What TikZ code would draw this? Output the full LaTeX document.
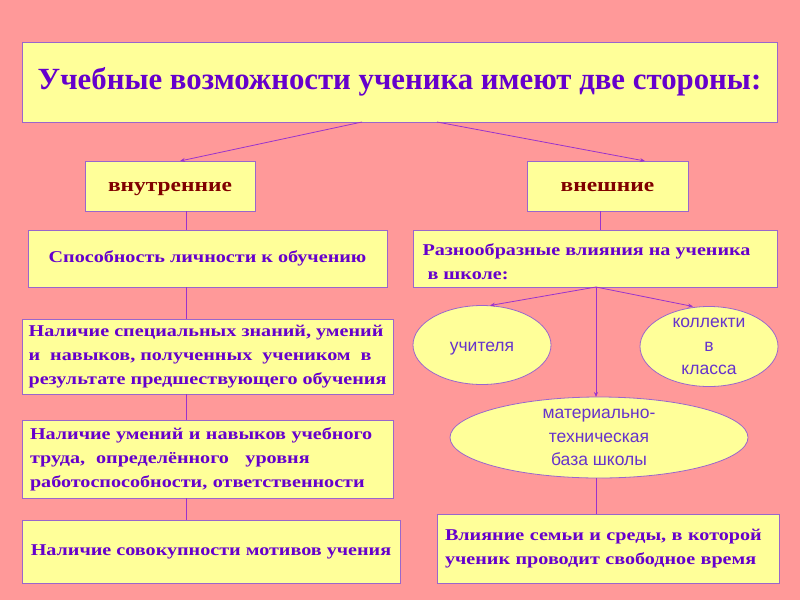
\documentclass[tikz,border=0pt]{standalone}
\usepackage{fontspec}
\setmainfont{Liberation Serif}
\newfontfamily\boxfont[FakeStretch=1.22]{Liberation Serif}
\newfontfamily\headfont[FakeStretch=1.2]{Liberation Serif}
\newfontfamily\elfont{Liberation Sans}
\usetikzlibrary{shapes.geometric,arrows.meta}
\definecolor{bgpink}{HTML}{FF9999}
\definecolor{boxyel}{HTML}{FFFF99}
\definecolor{bord}{HTML}{9966CC}
\definecolor{lin}{HTML}{9933CC}
\definecolor{txtp}{HTML}{6600CC}
\definecolor{txtr}{HTML}{800000}
\definecolor{eltxt}{HTML}{6633CC}
\tikzset{
  ybox/.style={draw=bord, line width=0.8pt, fill=boxyel, inner sep=0pt, outer sep=0pt},
  yell/.style={ellipse, draw=bord, line width=0.8pt, fill=boxyel, inner sep=0pt, outer sep=0pt,
     font=\elfont\fontsize{17.5}{23.5}\selectfont, text=eltxt, align=center},
  btxt/.style={font=\boxfont\bfseries\fontsize{16.5}{24}\selectfont, text=txtp},
  conn/.style={draw=lin, line width=0.8pt},
  arr/.style={conn, -{Stealth[length=5pt,width=4pt]}}
}
\begin{document}
\begin{tikzpicture}[x=1pt,y=-1pt]
\fill[bgpink] (0,0) rectangle (800,600);
\useasboundingbox (0,0) rectangle (800,600);
% title
\node[ybox, minimum width=755pt, minimum height=80pt, font=\bfseries\fontsize{30.8}{36}\selectfont, text=txtp] (title) at (399.5,82) {Учебные возможности ученика имеют две стороны:};
% second level
\node[ybox, minimum width=170pt, minimum height=50pt, font=\headfont\bfseries\fontsize{19.5}{22}\selectfont, text=txtr] (inner) at (170,186) {\raisebox{-5pt}[0pt][0pt]{внутренние}};
\node[ybox, minimum width=161pt, minimum height=50pt, font=\headfont\bfseries\fontsize{19.5}{22}\selectfont, text=txtr] (outer) at (607.5,186) {\raisebox{-5pt}[0pt][0pt]{внешние}};
% left column
\node[ybox, btxt, minimum width=359pt, minimum height=57pt] (spos) at (207.5,258.5) {Способность личности к обучению};
\node[ybox, btxt, minimum width=371pt, minimum height=75pt, align=left] (nal1) at (207.5,356.5) {Наличие специальных знаний, умений\\и\ \ навыков, полученных\ \ учеником\ \ в\\результате предшествующего обучения};
\node[ybox, btxt, minimum width=371pt, minimum height=78pt, text width=355pt, align=left] (nal2) at (207.5,459) {Наличие умений и навыков учебного\\труда,\ \ определённого\ \ \ уровня\\работоспособности, ответственности};
\node[ybox, btxt, minimum width=378pt, minimum height=63pt] (nal3) at (211,551.5) {Наличие совокупности мотивов учения};
% right column
\node[ybox, minimum width=364pt, minimum height=57pt] (razn) at (595,258.5) {};
\node[btxt, align=left, anchor=west] (razntxt) at (419,262) {Разнообразные влияния на ученика\\\ в школе:};
\node[yell, minimum width=138pt, minimum height=79pt] (uch) at (482,345) {\raisebox{-6.5pt}[0pt][0pt]{учителя}};
\node[yell, minimum width=138pt, minimum height=77pt] (kol) at (709,346.5) {коллекти\\в\\класса};
\node[yell, minimum width=298pt, minimum height=81pt] (mat) at (599,437.5) {материально-\\техническая\\база школы};
\node[ybox, btxt, minimum width=342pt, minimum height=69pt, text width=326pt, align=left] (vliy) at (608,548.5) {Влияние семьи и среды, в которой\\ученик проводит свободное время};
% connectors
\draw[arr] ([xshift=-37.5pt]title.south) -- ([xshift=10pt]inner.north);
\draw[arr] ([xshift=37.5pt]title.south) -- ([xshift=37.5pt]outer.north);
\draw[conn] ([xshift=16pt]inner.south) -- ([xshift=16pt]inner.south |- spos.north);
\draw[conn] ([xshift=-21.5pt]spos.south) -- ([xshift=-21.5pt]nal1.north);
\draw[conn] ([xshift=-21.5pt]nal1.south) -- ([xshift=-21.5pt]nal2.north);
\draw[conn] ([xshift=-21.5pt]nal2.south) -- ([xshift=-25pt]nal3.north);
\draw[conn] ([xshift=-7.5pt]outer.south) -- ([xshift=-7.5pt]outer.south |- razn.north);
\draw[arr] ([xshift=1pt]razn.south) -- ([xshift=8pt]uch.north);
\draw[arr] ([xshift=1pt]razn.south) -- ([xshift=-16pt]kol.north);
\draw[arr] ([xshift=1pt]razn.south) -- ([xshift=1pt]razn.south |- mat.north);
\draw[conn] ([xshift=-3pt]mat.south) -- ([xshift=-3pt]mat.south |- vliy.north);
\end{tikzpicture}
\end{document}
